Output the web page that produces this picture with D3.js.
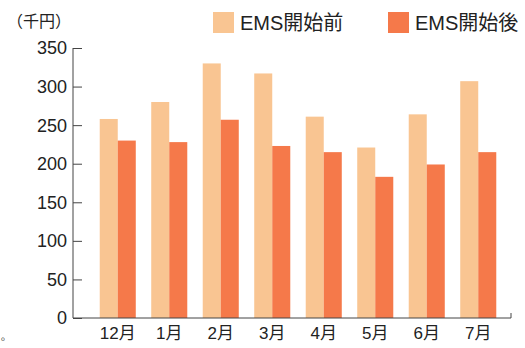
<!DOCTYPE html>
<html>
<head>
<meta charset="utf-8">
<script src="https://cdn.jsdelivr.net/npm/d3@7"></script>
<style>
	body { margin: 0; background: #fff; }
	text { font-family: 'Liberation Sans', 'Noto Sans CJK JP', sans-serif; fill: #222; }
</style>
</head>
<body>
<div class="chart"></div>
<script>
const months = ['12月', '1月', '2月', '3月', '4月', '5月', '6月', '7月'];
const seriesNames = ['EMS開始前', 'EMS開始後'];
const beforeEms = [258, 280, 330, 317, 261, 221, 264, 307];
const afterEms = [230, 228, 257, 223, 215, 183, 199, 215];
const yTicks = [0, 50, 100, 150, 200, 250, 300, 350];
const unitLabel = '（千円）';

const colors = ['#f9c592', '#f5794a'];
const width = 525;
const height = 348;
const axisLeft = 73;
const axisRight = 511;
const axisBottom = 318;
const axisTop = 48;

const svg = d3
	.select('.chart')
	.append('svg')
	.attr('width', width)
	.attr('height', height);

const x = d3.scaleBand().domain(months).range([ 92, 504 ]).paddingInner(0.3).paddingOuter(0.15);
const xInner = d3.scaleBand().domain([ 0, 1 ]).range([ 0, x.bandwidth() ]);
const y = d3.scaleLinear().domain([ 0, 350 ]).range([ axisBottom, axisTop ]);

// bars
const rows = months.map((m, i) => ({ month: m, values: [ beforeEms[i], afterEms[i] ] }));
svg
	.selectAll('.group')
	.data(rows)
	.enter()
	.append('g')
	.attr('transform', (d) => 'translate(' + x(d.month) + ',0)')
	.selectAll('rect')
	.data((d) => d.values)
	.enter()
	.append('rect')
	.attr('x', (d, i) => xInner(i))
	.attr('width', xInner.bandwidth())
	.attr('y', (d) => y(d))
	.attr('height', (d) => axisBottom - y(d))
	.attr('fill', (d, i) => colors[i]);

// y axis, ticks point inward
const yAxis = svg
	.append('g')
	.attr('transform', 'translate(' + axisLeft + ',0)')
	.call(d3.axisRight(y).tickValues(yTicks).tickSize(9).tickFormat(''));
yAxis.select('.domain').attr('stroke', '#444').attr('d', 'M0,' + axisTop + 'V' + axisBottom);
yAxis.selectAll('line').attr('stroke', '#444');

svg
	.selectAll('.ylab')
	.data(yTicks)
	.enter()
	.append('text')
	.attr('x', 67)
	.attr('y', (d) => y(d))
	.attr('dy', '0.36em')
	.attr('text-anchor', 'end')
	.style('font-size', '18px')
	.text((d) => d);

// x axis
svg
	.append('path')
	.attr('d', 'M' + axisLeft + ',' + axisBottom + 'H' + axisRight + 'V' + (axisBottom - 5))
	.attr('fill', 'none')
	.attr('stroke', '#444');

svg
	.selectAll('.xlab')
	.data(months)
	.enter()
	.append('text')
	.attr('x', (d) => x(d) + x.bandwidth() / 2)
	.attr('y', 339)
	.attr('text-anchor', 'middle')
	.style('font-size', '17px')
	.text((d) => d);

// unit label
svg
	.append('text')
	.attr('x', 7)
	.attr('y', 27)
	.style('font-family', "'Noto Sans CJK JP', sans-serif")
	.style('font-size', '16px')
	.text(unitLabel);

// legend
const legendX = [ 213, 388 ];
seriesNames.forEach((name, i) => {
	svg
		.append('rect')
		.attr('x', legendX[i])
		.attr('y', 12)
		.attr('width', 21)
		.attr('height', 21)
		.attr('fill', colors[i]);
	svg
		.append('text')
		.attr('x', legendX[i] + 27)
		.attr('y', 23)
		.attr('dy', '0.36em')
		.style('font-size', '20px')
		.text(name);
});

svg.append('text').attr('x', 1).attr('y', 340).style('font-size', '10px').text('。');
</script>
</body>
</html>
